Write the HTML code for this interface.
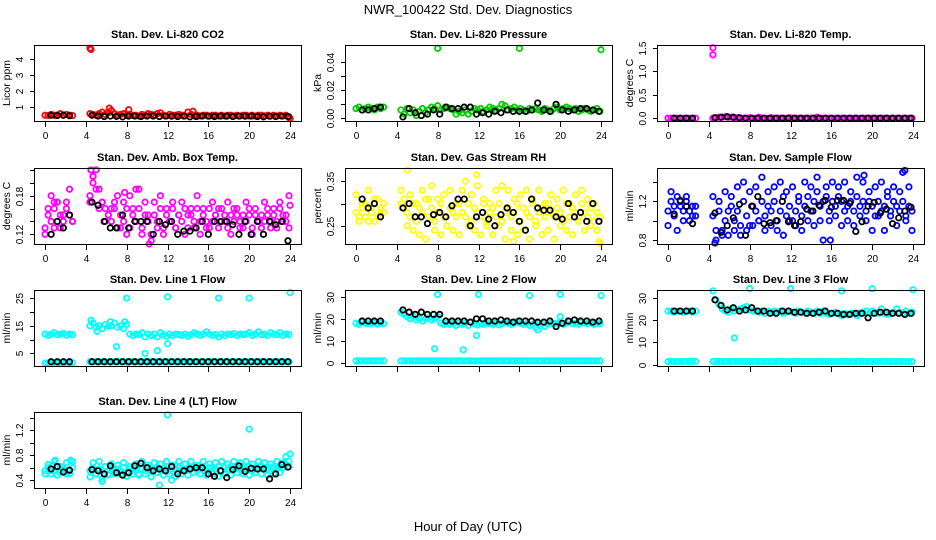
<!DOCTYPE html>
<html><head><meta charset="utf-8"><style>
html,body{margin:0;padding:0;background:#fff;width:936px;height:540px;overflow:hidden}
svg{display:block;font-family:"Liberation Sans",Arial,sans-serif}
</style></head><body>
<svg id="chart" width="936" height="540" viewBox="0 0 936 540">
<text x="468" y="14" text-anchor="middle" font-size="13">NWR_100422  Std. Dev. Diagnostics</text>
<text x="468" y="531" text-anchor="middle" font-size="13">Hour of Day (UTC)</text>
</svg>
<script>
// sampling grids (hours)
const hc = [];
for (let i = 0; i < 10; i++) hc.push(i * 0.3);
for (let k = 0; k < 66; k++) hc.push(4.4 + k * 0.3);
const hb = [0.6, 1.2, 1.8, 2.4];
for (let j = 0; j < 33; j++) hb.push(4.6 + j * 0.6);
const xTicks = [0, 4, 8, 12, 16, 20, 24];

// Panel 1: CO2
const co2C = [.5,.48,.55,.5,.52,.6,.5,.55,.5,.48,
 .6,.55,.5,.6,.7,.55,.65,.8,.6,.5, .55,.6,.5,.55,.5,.5,.45,.55,.5,.6, .55,.5,.6,.65,.5,.45,.55,.5,.5,.55,
 .5,.45,.7,.55,.5,.5,.45,.5,.5,.45, .5,.5,.45,.5,.45,.5,.5,.45,.5,.45, .5,.5,.45,.5,.45,.5,.5,.45,.5,.45, .5,.45,.5,.45,.5,.4];
const co2B = [.5,.48,.5,.47, .5,.45,.42,.45,.43,.4,.45,.45,.42,.45, .45,.42,.45,.44,.42,.45,.4,.42,.45,.44, .42,.45,.44,.42,.45,.44,.45,.42,.4,.44, .42,.45,.42];
const co2OX = [4.4, 4.5, 6.3, 8.2, 14.5, 24];
const co2OY = [4.7, 4.62, .95, .85, .75, .3];

// Panel 2: Pressure
const prC = [.007,.008,.006,.007,.008,.007,.006,.008,.007,.008,
 .006,.003,.007,.004,.006,.002,.005,.007,.004,.006, .008,.007,.009,.006,.007,.008,.007,.006,.003,.005,
 .004,.006,.003,.005,.007,.006,.007,.005,.006,.008, .007,.006,.007,.010,.009,.006,.007,.008,.006,.007,
 .006,.005,.007,.006,.007,.006,.005,.007,.006,.005, .007,.008,.006,.007,.008,.007,.006,.007,.005,.006, .007,.006,.005,.006,.007,.005];
const prB = [.006,.006,.007,.008, .001,.007,.004,.002,.003,.006,.003,.008,.007,.007, .008,.008,.003,.004,.003,.005,.004,.006,.005,.005,
 .005,.006,.011,.006,.005,.010,.006,.005,.006,.007, .007,.006,.005];
const prOX = [8, 16, 24];
const prOY = [.05, .05, .049];

// Panel 3: Li-820 Temp
const tpC = [0,0,0,0,0,0,0,0,0,0,
 0,.01,.02,.02,.03,.02,.02,.01,.01,.0, 0,0,.01,0,0,.02,0,0,0,.01, 0,0,0,0,0,.01,0,0,0,0,
 0,0,0,0,.02,0,0,0,0,0, 0,0,0,0,0,0,0,0,0,0, 0,0,0,0,0,0,0,0,0,0, 0,0,0,0,0,0];
const tpB = [0,0,0,0, .01,.02,.03,.02,.01,0,0,0,0,0, 0,0,0,0,0,0,0,0,0,0, 0,0,0,0,0,0,0,0,0,0, 0,0,0];
const tpOX = [4.4, 4.4];
const tpOY = [1.5, 1.35];

// Panel 4: Amb Box Temp
const abC1 = [.13,.15,.14,.16,.17,.15,.14,.16,.15,.14,
 .17,.2,.22,.19,.17,.16,.15,.14,.16,.13, .15,.14,.16,.13,.15,.14,.16,.13,.15,.14, .12,.15,.14,.16,.13,.15,.14,.16,.13,.15,
 .14,.16,.13,.15,.14,.16,.14,.15,.13,.16, .14,.15,.16,.14,.15,.13,.15,.14,.16,.13, .15,.14,.16,.13,.15,.14,.15,.14,.16,.13, .15,.14,.16,.15,.14,.13];
const abC2 = [.12,.16,.18,.13,.17,.13,.15,.17,.19,.14,
 .18,.21,.19,.16,.17,.14,.15,.16,.17,.18, .13,.17,.12,.18,.16,.14,.19,.12,.17,.15, .11,.17,.13,.18,.12,.16,.14,.17,.13,.15,
 .17,.12,.15,.16,.13,.18,.12,.16,.14,.13, .17,.15,.13,.16,.14,.17,.12,.16,.15,.14, .13,.17,.15,.12,.16,.14,.13,.17,.15,.14, .16,.13,.17,.14,.15,.18];
const abB = [.12,.14,.13,.15, .17,.165,.14,.13,.13,.15,.13,.14,.14,.14, .12,.14,.135,.14,.12,.125,.125,.13,.14,.12,
 .14,.14,.14,.135,.12,.14,.12,.14,.12,.14, .135,.14,.11];
const abOX = [4.5, 4.7, 8.9, 7.8, 24, 10.2, 0.9];
const abOY = [.22, .21, .19, .185, .165, .105, .17];

// Panel 5: Gas Stream RH
const rhC1 = [.28,.27,.29,.30,.26,.28,.31,.27,.29,.28,
 .30,.29,.28,.27,.30,.26,.29,.28,.31,.27, .29,.26,.28,.30,.27,.25,.29,.28,.27,.30, .28,.27,.30,.26,.29,.28,.27,.30,.26,.28,
 .29,.27,.30,.26,.28,.29,.27,.28,.30,.26, .29,.28,.27,.30,.26,.28,.29,.27,.30,.28, .27,.29,.28,.26,.30,.27,.29,.28,.27,.30, .28,.27,.29,.26,.28,.27];
const rhC2 = [.32,.26,.30,.27,.33,.29,.26,.31,.28,.30,
 .33,.31,.25,.32,.24,.30,.23,.33,.22,.31, .34,.24,.31,.23,.32,.25,.33,.24,.30,.23, .33,.35,.25,.32,.24,.34,.23,.31,.25,.30,
 .23,.33,.25,.34,.22,.33,.24,.31,.23,.32, .24,.33,.22,.31,.25,.33,.23,.30,.24,.32, .22,.31,.25,.33,.24,.30,.23,.32,.26,.33, .24,.31,.25,.30,.24,.21];
const rhB = [.31,.29,.30,.27, .29,.30,.27,.27,.255,.275,.28,.27,.295,.31, .31,.25,.27,.28,.265,.25,.275,.29,.28,.26,
 .24,.31,.29,.285,.285,.27,.265,.30,.27,.28, .26,.30,.26];
const rhOX = [5, 11.8, 15.4, 23.8];
const rhOY = [.375, .365, .215, .215];

// Panel 6: Sample Flow
const sfC1 = [1.1,1.2,1.05,1.25,1.15,1.0,1.2,1.1,1.05,1.15,
 1.05,0.9,1.1,0.85,1.0,1.1,1.25,1.0,1.1,0.95, 1.2,1.05,0.95,1.15,1.1,1.0,1.2,1.05,1.15,1.1, 1.2,1.0,1.1,1.25,1.05,1.15,1.0,1.1,1.2,1.05,
 1.15,1.25,1.1,1.2,1.3,1.15,1.2,1.25,1.1,1.2, 1.15,1.25,1.2,1.1,1.15,1.2,1.1,1.25,1.15,1.2, 1.1,1.2,1.15,1.05,1.2,1.1,1.15,1.25,1.1,1.2, 1.15,1.1,1.2,1.05,1.15,1.1];
const sfC2 = [0.95,1.3,1.15,0.9,1.2,1.1,1.25,1.0,1.15,1.05,
 1.25,0.8,1.2,0.9,1.3,0.85,1.15,0.9,1.35,0.85, 1.4,0.9,1.3,0.95,1.35,1.0,1.45,0.9,1.3,0.95, 1.35,0.9,1.4,0.85,1.3,1.0,1.35,0.95,1.25,0.9,
 1.4,1.0,1.35,0.95,1.45,1.0,0.8,1.35,1.0,1.4, 1.05,1.35,0.95,1.4,1.0,1.3,0.95,1.45,1.05,1.4, 1.0,1.3,0.9,1.35,1.05,1.4,0.9,1.3,1.05,1.35, 0.95,1.3,1.5,1.0,1.35,0.9];
const sfB = [1.07,1.21,1.15,0.97, 1.08,0.88,0.95,1.03,1.17,0.85,1.15,1.25,0.97,0.98, 1.0,1.2,0.99,0.95,0.99,1.12,1.1,1.16,1.21,1.14,
 1.21,1.21,1.18,0.89,0.99,1.15,1.19,1.08,1.12,0.97, 1.03,1.1,1.14];
const sfOX = [4.6, 15.9, 23.2, 19.2];
const sfOY = [0.77, 0.8, 1.52, 1.47];

// Panel 7: Line 1 Flow
const l1C1 = [12,11.5,12,12.5,11.8,12,12.2,11.6,12,11.8,
 15,16,14.5,15,14,15.5,14.8,15,16,14.5, 15,14,15.5,12,11.5,12,11.8,12.5,11,12, 11.5,12,11,12.5,11.8,11.2,12,11.5,12,11.8,
 11.5,12,11.2,11.8,12.5,12,11.5,12,12.8,12, 11.5,11.8,11,12,11.5,12,11.8,12.2,11.5,12, 11.8,12,12.5,11.5,12,12.8,11.8,12,11.5,12.5, 12,11.8,12.5,11.5,12,11.8];
const l1C2 = [1.5,1.6,1.5,1.6,1.5,1.6,1.5,1.6,1.5,1.6,
 2,2,2,2,2,2,2,2,2,2, 2,2,2,2,2,2,2,2,2,2, 2,2,2,2,2,2,2,2,2,2,
 2,2,2,2,2,2,2,2,2,2, 2,2,2,2,2,2,2,2,2,2, 2,2,2,2,2,2,2,2,2,2, 2,2,2,2,2,2];
const l1B = [2,2,2,2, 2,2,2,2,2,2,2,2,2,2, 2,2,2,2,2,2,2,2,2,2, 2,2,2,2,2,2,2,2,2,2, 2,2,2];
const l1OX = [8, 12, 17, 20, 24, 7, 9.8, 11, 12, 4.5, 5.1, 6.4, 7.8];
const l1OY = [25, 25.5, 25, 25, 27, 7.5, 5, 6, 8.5, 17, 13, 16.5, 16.5];

// Panel 8: Line 2 Flow
const l2C1 = [18,17.5,18.5,18,17.8,18,18.2,17.6,18,17.8,
 23,22,21,20,21,19.5,20,19,20,20.5, 19.5,20,21,18,17.5,18,17.5,18,17,18, 17.5,18,17,18.5,17.8,17.2,18,17.5,18,17.8,
 17.5,18,17.2,17.8,18.5,18,17.5,18,18.8,18, 17.5,17.8,17,17.5,16,18,17.8,16.5,17.5,18, 17.8,18,18.5,17.5,18,18.8,17.8,18,17.5,18.5, 18,17.8,18.5,17.5,18,17.8];
const l2C2 = [1,1,1,1,1,1,1,1,1,1,
 1,1,1,1,1,1,1,1,1,1, 1,1,1,1,1,1,1,1,1,1, 1,1,1,1,1,1,1,1,1,1,
 1,1,1,1,1,1,1,1,1,1, 1,1,1,1,1,1,1,1,1,1, 1,1,1,1,1,1,1,1,1,1, 1,1,1,1,1,1];
const l2B = [19,19,19,19, 24,23,22,23,22,22,22,19,19,19, 19,18.5,20,20,19,19,19.5,19,18.5,19,
 19,19,18.5,18.5,19,16.5,18,19,19.5,19, 19,18.5,19];
const l2OX = [8, 12, 17, 20, 24, 7.7, 10.5, 11.8, 17.8, 20];
const l2OY = [31, 31, 30.5, 31, 30.5, 6.5, 6, 12.5, 15, 21];

// Panel 9: Line 3 Flow
const l3C1 = [24,24,23.5,24,24,23.5,24,24,23.5,24,
 33,29,27,25,24,23.5,25,24,24.5,25, 25.5,26,24.5,24,24,23.5,24,23,24,23.5, 24,23.5,24,23,23.5,24,23.5,23,24,23.5,
 23,24,23.5,23,24,23,24,23,22.5,23, 23.5,23,22,23,22.5,23,23,22,23,23.5, 24,23,24,23.5,23,25,23,22.5,23,23.5, 25,23.5,23,24,23,23.5];
const l3C2 = [1.5,1.5,1.5,1.5,1.5,1.5,1.5,1.5,1.5,1.5,
 1.5,1.5,1.5,1.5,1.5,1.5,1.5,1.5,1.5,1.5, 1.5,1.5,1.5,1.5,1.5,1.5,1.5,1.5,1.5,1.5, 1.5,1.5,1.5,1.5,1.5,1.5,1.5,1.5,1.5,1.5,
 1.5,1.5,1.5,1.5,1.5,1.5,1.5,1.5,1.5,1.5, 1.5,1.5,1.5,1.5,1.5,1.5,1.5,1.5,1.5,1.5, 1.5,1.5,1.5,1.5,1.5,1.5,1.5,1.5,1.5,1.5, 1.5,1.5,1.5,1.5,1.5,1.5];
const l3B = [24,24,24,24, 29,26.5,24.5,25.5,24,24.5,25.5,24,24,23, 23,24,24,23.5,23.5,23,23,23.5,24,23,
 23,22.5,22.5,23,23,21,23,23.5,23.5,23, 23,22.5,23];
const l3OX = [8, 12, 17, 20, 24, 6.5];
const l3OY = [34, 34, 33, 34, 33.5, 12];

// Panel 10: Line 4 (LT) Flow
const l4C1 = [.55,.6,.5,.55,.6,.52,.58,.5,.55,.6,
 .55,.6,.5,.58,.55,.62,.5,.6,.55,.58, .55,.6,.52,.58,.55,.6,.5,.58,.55,.6, .55,.58,.6,.55,.6,.58,.55,.6,.58,.6,
 .58,.55,.6,.58,.62,.55,.6,.58,.55,.6, .6,.58,.62,.55,.6,.58,.62,.6,.58,.6, .6,.58,.62,.55,.6,.58,.62,.6,.58,.6, .6,.58,.62,.6,.65,.62];
const l4C2 = [.5,.65,.55,.7,.48,.62,.55,.68,.5,.7,
 .45,.68,.5,.7,.42,.62,.48,.66,.5,.64, .5,.68,.46,.62,.5,.66,.48,.7,.5,.64, .45,.68,.52,.66,.48,.7,.5,.64,.46,.7,
 .5,.66,.48,.7,.52,.64,.5,.7,.48,.66, .5,.68,.46,.7,.5,.66,.48,.7,.52,.68, .5,.7,.48,.66,.52,.7,.5,.68,.48,.66, .5,.7,.52,.68,.78,.7];
const l4B = [.58,.62,.53,.56, .57,.55,.5,.63,.52,.48,.52,.63,.67,.6, .55,.58,.55,.62,.5,.55,.58,.6,.6,.5,
 .46,.55,.44,.57,.63,.54,.59,.58,.58,.42, .5,.65,.61];
const l4OX = [12, 20, 11.2, 24, 1, 2.5, 12.4, 5.6];
const l4OY = [1.45, 1.22, .32, .82, .72, .72, .4, .38];

const NS = 'http://www.w3.org/2000/svg';
const svg = document.getElementById('chart');
function mk(tag, attrs, parent) {
  const e = document.createElementNS(NS, tag);
  for (const k in attrs) e.setAttribute(k, attrs[k]);
  (parent || svg).appendChild(e);
  return e;
}

const panels = [
 {title:'Stan. Dev. Li-820 CO2', ylab:'Licor ppm', col:0,row:0, ymin:0.14,ymax:4.9, ticks:[1,2,3,4], labels:['1','2','3','4'], color:'#ff0000', c:[co2C], b:co2B, ox:co2OX, oy:co2OY, xl:true},
 {title:'Stan. Dev. Li-820 Pressure', ylab:'kPa', col:1,row:0, ymin:-0.0019,ymax:0.0524, ticks:[0,.01,.02,.03,.04], labels:['0.00','','0.02','','0.04'], color:'#00cc00', c:[prC], b:prB, ox:prOX, oy:prOY, xl:true},
 {title:'Stan. Dev. Li-820 Temp.', ylab:'degrees C', col:2,row:0, ymin:-0.06,ymax:1.56, ticks:[0,.5,1,1.5], labels:['0.0','0.5','1.0','1.5'], color:'#ff00ff', c:[tpC], b:tpB, ox:tpOX, oy:tpOY, xl:true},
 {title:'Stan. Dev. Amb. Box Temp.', ylab:'degrees C', col:0,row:1, ymin:0.105,ymax:0.223, ticks:[.12,.14,.16,.18,.20,.22], labels:['0.12','','','0.18','',''], color:'#ff00ff', c:[abC1,abC2], b:abB, ox:abOX, oy:abOY, xl:true},
 {title:'Stan. Dev. Gas Stream RH', ylab:'percent', col:1,row:1, ymin:0.209,ymax:0.38, ticks:[.25,.30,.35], labels:['0.25','','0.35'], color:'#ffff00', c:[rhC1,rhC2], b:rhB, ox:rhOX, oy:rhOY, xl:true},
 {title:'Stan. Dev. Sample Flow', ylab:'ml/min', col:2,row:1, ymin:0.76,ymax:1.545, ticks:[.8,1.0,1.2,1.4], labels:['0.8','','1.2',''], color:'#0000ff', c:[sfC1,sfC2], b:sfB, ox:sfOX, oy:sfOY, xl:true},
 {title:'Stan. Dev. Line 1 Flow', ylab:'ml/min', col:0,row:2, ymin:0.46,ymax:27.96, ticks:[5,10,15,20,25], labels:['5','','15','','25'], color:'#00ffff', c:[l1C1,l1C2], b:l1B, ox:l1OX, oy:l1OY, xl:false},
 {title:'Stan. Dev. Line 2 Flow', ylab:'ml/min', col:1,row:2, ymin:-1.3,ymax:33,  ticks:[0,10,20,30], labels:['0','10','20','30'], color:'#00ffff', c:[l2C1,l2C2], b:l2B, ox:l2OX, oy:l2OY, xl:false},
 {title:'Stan. Dev. Line 3 Flow', ylab:'ml/min', col:2,row:2, ymin:-0.5,ymax:33.4, ticks:[0,10,20,30], labels:['0','10','20','30'], color:'#00ffff', c:[l3C1,l3C2], b:l3B, ox:l3OX, oy:l3OY, xl:false},
 {title:'Stan. Dev. Line 4 (LT) Flow', ylab:'ml/min', col:0,row:3, ymin:0.273,ymax:1.497, ticks:[.4,.6,.8,1.0,1.2,1.4], labels:['0.4','','0.8','','1.2',''], color:'#00ffff', c:[l4C1,l4C2], b:l4B, ox:l4OX, oy:l4OY, xl:true}
];
const colL = [34, 345, 657], W = 267;
const rowT = [45, 168, 290, 412], H = 76;

panels.forEach((p, pi) => {
  const L = colL[p.col], T = rowT[p.row], B = T + H, R = L + W;
  const g = mk('g', {});
  
  
  const xs = h => L + 11 + (h / 24) * (W - 22);
  const ys = v => B - (v - p.ymin) / (p.ymax - p.ymin) * H;
  const t = mk('text', {x: L + W / 2, y: T - 7, 'text-anchor': 'middle', 'font-size': 11, 'font-weight': 'bold'}, g);
  t.textContent = p.title;
  
  
  const yl = mk('text', {x: 0, y: 0, transform: `translate(${L - 24},${T + H / 2}) rotate(-90)`, 'text-anchor': 'middle', 'font-size': 10.5}, g);
  yl.textContent = p.ylab;
  
  
  const pg = mk('g', {fill: 'none', 'stroke-width': 1.8}, g);
  p.c.forEach(arr => {
    arr.forEach((v, i) => {
      if (i >= hc.length) return;
      const c = mk('circle', {cx: xs(hc[i]), cy: ys(v), r: 2.7, stroke: p.color}, pg);
      
      
    });
  });
  p.oy.forEach((v, i) => {
    const c = mk('circle', {cx: xs(p.ox[i]), cy: ys(v), r: 2.7, stroke: p.color}, pg);
    
    
  });
  p.b.forEach((v, i) => {
    if (i >= hb.length) return;
    const c = mk('circle', {cx: xs(hb[i]), cy: ys(v), r: 2.7, stroke: '#000'}, pg);
    
    
  });
  const fr = mk('rect', {x: L + .5, y: T + .5, width: W, height: H, fill: 'none', stroke: '#000', 'stroke-width': 1}, g);
  
  
  p.ticks.forEach((tv, i) => {
    const y = Math.round(ys(tv)) + .5;
    mk('line', {x1: L - 4, x2: L, y1: y, y2: y, stroke: '#000'}, g);
    if (p.labels[i]) {
      const lt = mk('text', {x: 0, y: 0, transform: `translate(${L - 11},${y}) rotate(-90)`, 'text-anchor': 'middle', 'font-size': 10}, g);
      lt.textContent = p.labels[i];
      
      
    }
  });
  xTicks.forEach(h => {
    const x = Math.round(xs(h)) + .5;
    mk('line', {x1: x, x2: x, y1: B + 1, y2: B + 6, stroke: '#000'}, g);
    if (p.xl) {
      const lt = mk('text', {x: x, y: B + 18, 'text-anchor': 'middle', 'font-size': 10}, g);
      lt.textContent = h;
      
      
    }
  });
});
</script>
</body></html>
